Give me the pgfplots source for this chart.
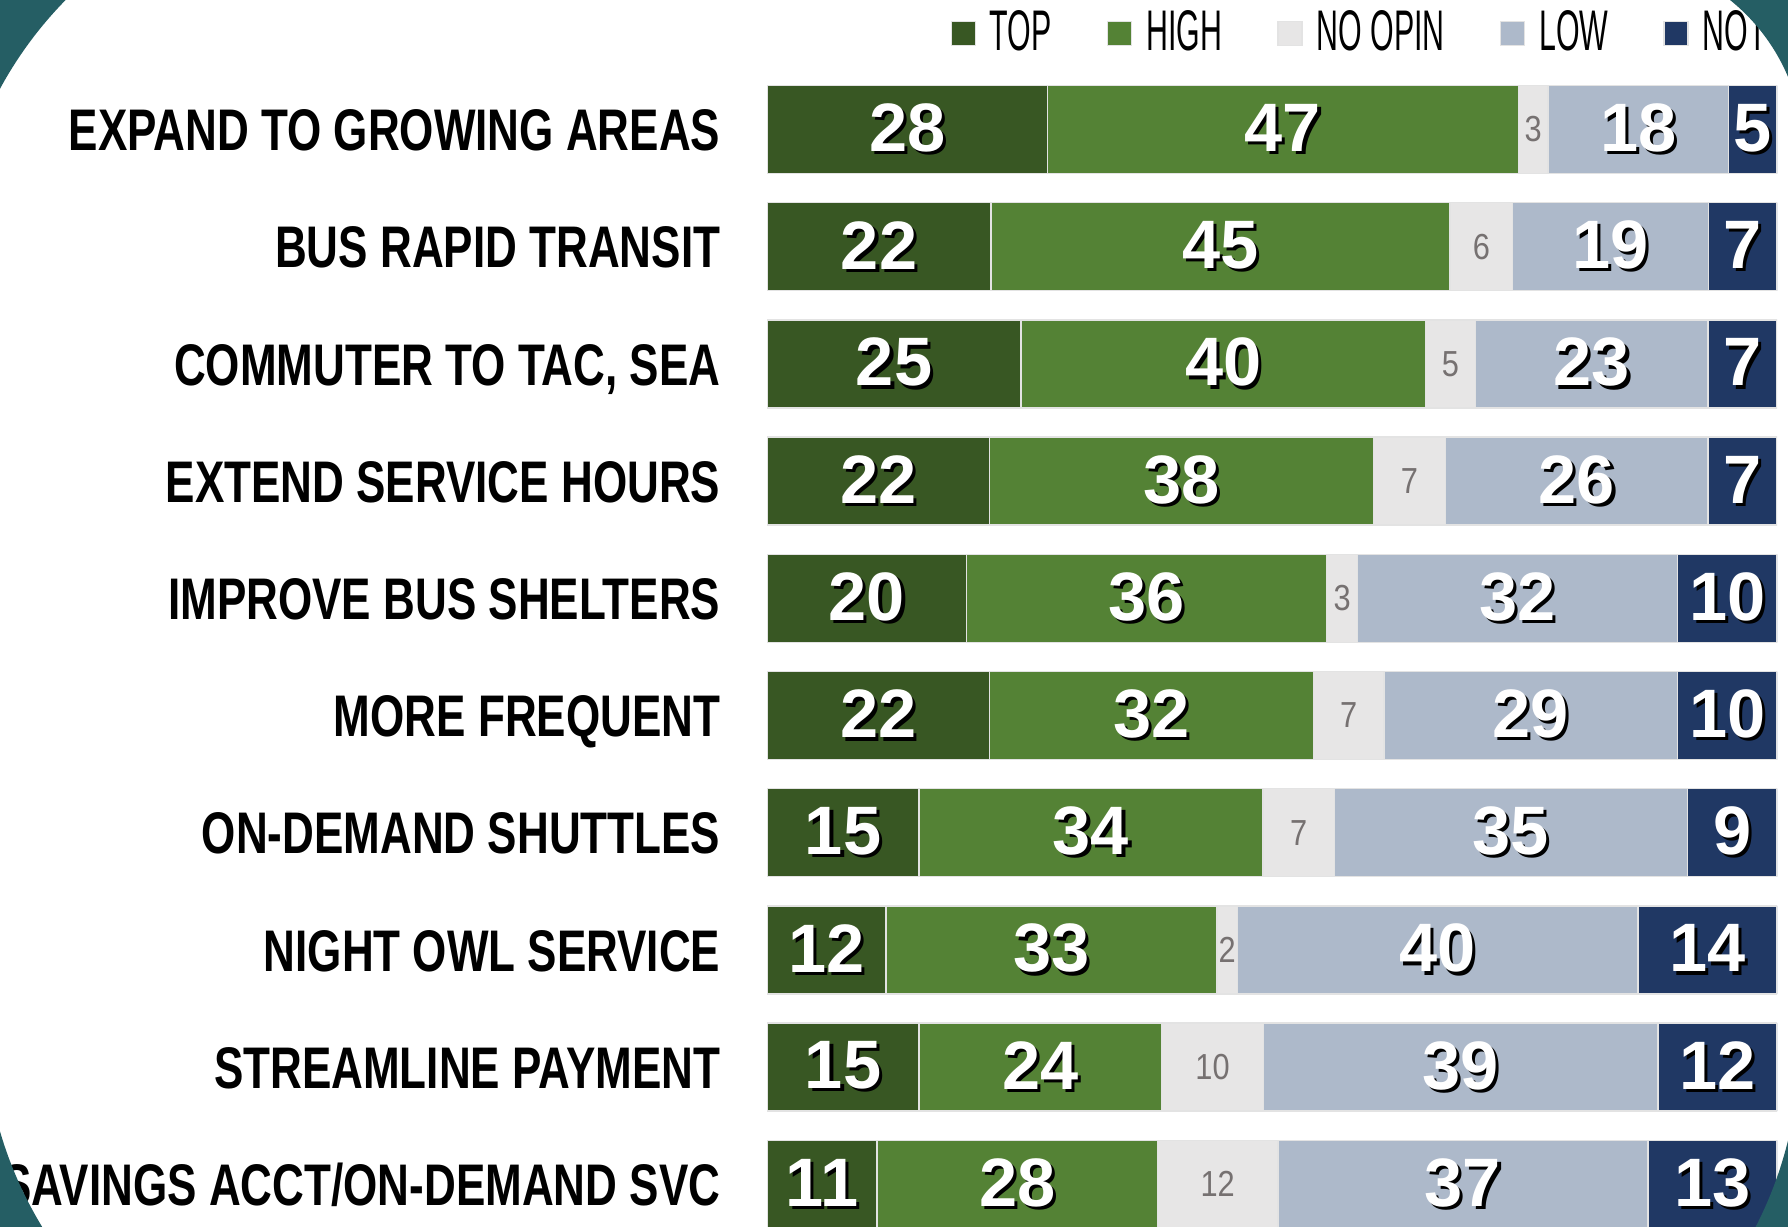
\documentclass[border=0pt]{standalone}
\usepackage{pgfplots}
\pgfplotsset{compat=1.18}
\usepackage{pgfplotstable}
\usepackage{fontspec}
\setmainfont{Liberation Sans}
\newfontfamily\catfont[FakeStretch=0.75]{Liberation Sans}
\newfontfamily\legfont[FakeStretch=0.53]{Liberation Sans}
\newfontfamily\smallfont[FakeStretch=0.85]{Liberation Sans}

\definecolor{cTop}{RGB}{56,87,35}
\definecolor{cHigh}{RGB}{84,130,53}
\definecolor{cNo}{RGB}{231,230,230}
\definecolor{cLow}{RGB}{173,185,202}
\definecolor{cNot}{RGB}{32,56,100}
\definecolor{cTxt}{RGB}{118,113,113}
\definecolor{cTeal}{RGB}{37,94,100}

% white number with a black drop shadow
\newcommand{\shd}[1]{\makebox[0pt][l]{\kern0.9pt\raisebox{-0.9pt}{\color{black}#1}}{\color{white}#1}}

% share of answers (percent) per item
\pgfplotstableread{
row top   high  noop  low   nt
1   27.76 46.63 2.92  17.90 4.80
2   22.18 45.45 6.20  19.40 6.77
3   25.16 40.01 4.99  23.02 6.81
4   22.05 38.00 7.13  26.00 6.81
5   19.78 35.60 3.11  31.65 9.86
6   22.05 32.04 7.00  29.05 9.86
7   15.05 34.05 7.07  34.95 8.88
8   11.80 32.75 2.01  39.69 13.75
9   15.05 24.00 10.12 39.04 11.80
10  10.89 27.76 11.93 36.64 12.78
}\survey

\pgfplotsset{
  frame/.style={
    at={(76.7mm,-7.09mm)}, anchor=north west,
    scale only axis, width=101mm, height=117.2mm,
    xmin=0, xmax=100, ymin=0.5, ymax=10.5, y dir=reverse,
    axis line style={draw=none}, major tick length=0pt,
  },
  seg/.style={fill=#1, draw=gray!22, line width=0.4pt},
  bignum/.style={draw=none, mark=none,
    nodes near coords={\shd{\pgfmathprintnumber[fixed,precision=0,assume math mode=true]{\pgfplotspointmeta}}},
    point meta=explicit,
    every node near coord/.style={anchor=center, inner sep=0pt, font=\bfseries\fontsize{19.5}{20}\selectfont}},
  smallnum/.style={draw=none, mark=none,
    nodes near coords={\pgfmathprintnumber[fixed,precision=0,assume math mode=true]{\pgfplotspointmeta}},
    point meta=explicit,
    every node near coord/.style={anchor=center, inner sep=0pt, text=cTxt, font=\smallfont\fontsize{10.3}{11}\selectfont}},
}

\begin{document}
\begin{tikzpicture}
\path[use as bounding box] (0,0) rectangle (178.8mm,-122.6mm);

\begin{axis}[frame,
  xbar stacked, bar width=8.8mm,
  xtick=\empty,
  ytick={1,...,10},
  yticklabels={EXPAND TO GROWING AREAS, BUS RAPID TRANSIT, {COMMUTER TO TAC, SEA},
    EXTEND SERVICE HOURS, IMPROVE BUS SHELTERS, MORE FREQUENT, ON-DEMAND SHUTTLES,
    NIGHT OWL SERVICE, STREAMLINE PAYMENT, SAVINGS ACCT/ON-DEMAND SVC},
  yticklabel style={font=\catfont\bfseries\fontsize{16.7}{17}\selectfont,
    anchor=east, inner sep=0pt, xshift=-4.6mm, text height=12pt, text depth=0pt},
  legend columns=5,
  legend image code/.code={\path[#1] (0mm,-1.2mm) rectangle (2.4mm,1.2mm);},
  legend style={at={(0.181,1.032)}, anchor=west, draw=none, fill=none, inner sep=0pt,
    font=\legfont\fontsize{16.3}{17}\selectfont,
    nodes={inner sep=0pt},
    /tikz/every odd column/.append style={column sep=1.4mm},
    /tikz/every even column/.append style={column sep=5.5mm}},
  legend cell align=left,
]
\addplot[seg=cTop]  table[x=top,  y=row] {\survey};
\addplot[seg=cHigh] table[x=high, y=row] {\survey};
\addplot[seg=cNo]   table[x=noop, y=row] {\survey};
\addplot[seg=cLow]  table[x=low,  y=row] {\survey};
\addplot[seg=cNot]  table[x=nt,   y=row] {\survey};
\legend{TOP, HIGH, NO OPIN, LOW, NOT}
\end{axis}

% value labels, centred in each segment
\begin{axis}[frame, xtick=\empty, ytick=\empty, clip=false]
\addplot[bignum] table[x expr=\thisrow{top}/2, y=row, meta=top] {\survey};
\addplot[bignum] table[x expr=\thisrow{top}+\thisrow{high}/2, y=row, meta=high] {\survey};
\addplot[smallnum] table[x expr=\thisrow{top}+\thisrow{high}+\thisrow{noop}/2, y=row, meta=noop] {\survey};
\addplot[bignum] table[x expr=\thisrow{top}+\thisrow{high}+\thisrow{noop}+\thisrow{low}/2, y=row, meta=low] {\survey};
\addplot[bignum] table[x expr=100-\thisrow{nt}/2, y=row, meta=nt] {\survey};
\end{axis}

% slide background showing in the corners
\begin{scope}[x=0.1mm, y=-0.1mm]
  \begin{scope}
    \clip (0,0) rectangle (347.5,276.7);
    \fill[cTeal, even odd rule] (-50,-50) rectangle (400,330) (347.5,276.7) circle[radius=39.5mm];
  \end{scope}
  \begin{scope}
    \clip (1607,0) rectangle (1788,153);
    \fill[cTeal, even odd rule] (1550,-50) rectangle (1840,200) (1607,153) circle[radius=19.63mm];
  \end{scope}
  \begin{scope}
    \clip (0,1019) rectangle (384,1226);
    \fill[cTeal, even odd rule] (-50,970) rectangle (430,1280) (384,1019) circle[radius=40mm];
  \end{scope}
  \begin{scope}
    \clip (1399.6,1044.3) rectangle (1788,1226);
    \fill[cTeal, even odd rule] (1350,1000) rectangle (1840,1280) (1399.6,1044.3) circle[radius=40mm];
  \end{scope}
\end{scope}
\end{tikzpicture}
\end{document}
